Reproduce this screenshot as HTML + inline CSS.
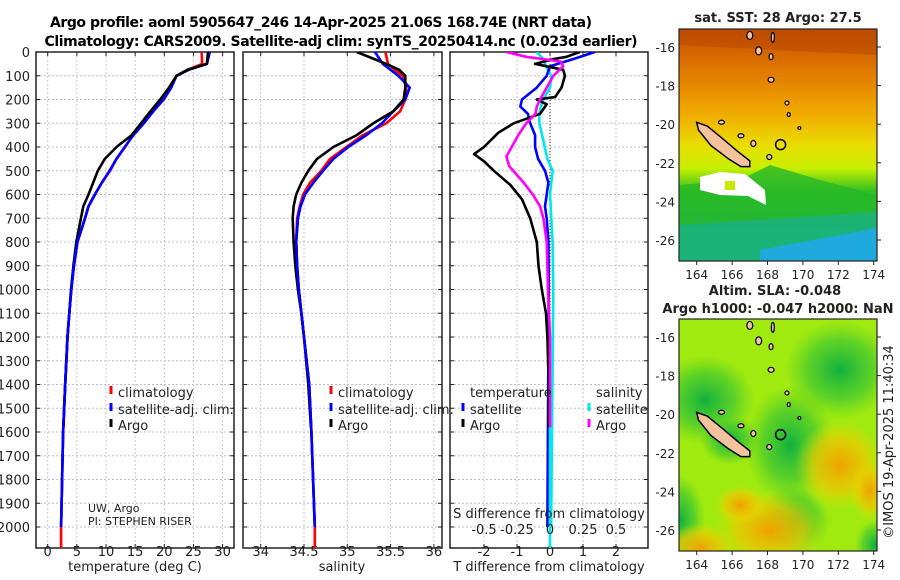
<!DOCTYPE html>
<html><head><meta charset="utf-8"><style>
body{margin:0;background:#fff}
svg{display:block;font-family:"DejaVu Sans","Liberation Sans",sans-serif}
</style></head><body>
<svg id="fig" width="900" height="580" viewBox="0 0 900 580">
<defs>
<clipPath id="c1"><rect x="36" y="52" width="198" height="496"/></clipPath>
<clipPath id="c2"><rect x="243" y="52" width="199" height="496"/></clipPath>
<clipPath id="c3"><rect x="450" y="52" width="198" height="496"/></clipPath>
<clipPath id="m1"><rect x="679" y="29" width="198" height="232"/></clipPath>
<clipPath id="m2"><rect x="679" y="319" width="198" height="232"/></clipPath>
<linearGradient id="sstg" x1="0" y1="0" x2="0" y2="1">
<stop offset="0" stop-color="#c04e00"/><stop offset="0.12" stop-color="#d86a00"/>
<stop offset="0.25" stop-color="#e88a00"/><stop offset="0.38" stop-color="#f0b000"/>
<stop offset="0.5" stop-color="#eadc00"/><stop offset="0.6" stop-color="#c8f000"/>
<stop offset="0.7" stop-color="#30c020"/><stop offset="0.85" stop-color="#18b070"/>
<stop offset="1" stop-color="#20c0d0"/></linearGradient>
<radialGradient id="gb"><stop offset="0" stop-color="#10b040"/><stop offset="0.6" stop-color="#40c830" stop-opacity="0.7"/><stop offset="1" stop-color="#60d020" stop-opacity="0"/></radialGradient>
<radialGradient id="ob"><stop offset="0" stop-color="#f0a000"/><stop offset="0.6" stop-color="#f0c800" stop-opacity="0.7"/><stop offset="1" stop-color="#e0e000" stop-opacity="0"/></radialGradient>
</defs>
<text x="321" y="27" font-size="14" font-weight="bold" text-anchor="middle" textLength="542">Argo profile: aoml 5905647_246 14-Apr-2025 21.06S 168.74E (NRT data)</text>
<text x="341" y="46" font-size="14" font-weight="bold" text-anchor="middle" textLength="593">Climatology: CARS2009. Satellite-adj clim: synTS_20250414.nc (0.023d earlier)</text>
<g id="panels"></g>
<g id="maps"></g>
</svg>
<script>
// ---- data ----
const depthLevels = [0,50,75,100,150,200,250,300,350,400,450,500,550,600,650,700,800,900,1000,1100,1200,1400,1600,2000];
const tempClim = [26.4,26.5,24,22.1,21,19.5,17.8,16.3,14.6,13.3,11.8,10.7,9.3,8.1,7.0,6.4,5.1,4.5,4.05,3.7,3.4,3.0,2.65,2.3];
const tempSat = [27.8,27.3,24.2,22.1,21.2,19.9,18.1,16.5,14.7,13.2,11.8,10.6,9.3,8.1,7.0,6.4,5.1,4.5,4.05,3.7,3.4,3.0,2.65,2.3];
const argoDepth = [0,50,75,100,150,200,250,300,350,400,450,500,550,600,650,700,800,900,1000,1100,1200,1400,1580];
const tempArgo = [27.5,27.3,24,22.1,20.8,19.3,17.6,16.0,14.4,11.8,9.8,8.6,7.8,7.0,6.1,5.7,4.9,4.4,4.0,3.7,3.4,3.0,2.7];
const salClim = [35.44,35.47,35.55,35.64,35.68,35.67,35.61,35.45,35.18,34.99,34.80,34.70,34.57,34.49,34.45,34.42,34.41,34.42,34.44,34.47,34.50,34.56,34.585,34.625];
const salSat = [35.32,35.41,35.5,35.59,35.72,35.67,35.53,35.40,35.22,35.01,34.84,34.72,34.61,34.51,34.46,34.43,34.41,34.42,34.44,34.47,34.50,34.56,34.585,34.625];
const salArgo = [35.11,35.45,35.6,35.67,35.67,35.65,35.53,35.30,35.11,34.84,34.65,34.55,34.47,34.41,34.38,34.37,34.38,34.40,34.43,34.47,34.50,34.55,34.58];
const diffDepthA = [0,20,30,50,60,75,100,150,190,200,220,260,300,340,400,430,460,500,560,620,700,800,900,1000,1100,1200,1400,1580];
const tDiffArgo = [0.9,0.5,0.1,-0.45,-0.1,0.4,0.45,0.35,0.15,-0.4,-0.1,-0.3,-1.1,-1.57,-2.0,-2.3,-2.0,-1.7,-1.2,-0.85,-0.6,-0.4,-0.35,-0.25,-0.12,-0.08,-0.04,-0.05];
const diffDepthS = [0,30,60,100,150,200,230,260,300,350,400,450,500,550,600,650,700,800,1000,2000];
const tDiffSat = [1.36,0.7,0,-0.1,-0.4,-0.85,-0.9,-0.67,-0.6,-0.45,-0.45,-0.36,-0.15,-0.05,-0.1,-0.15,-0.1,-0.05,-0.04,-0.08];
const sDiffSat = [-0.1,-0.05,-0.03,0.01,0,-0.05,-0.07,-0.08,-0.08,-0.06,-0.04,-0.02,0.02,0.01,0,0.005,0.01,0.02,0.025,0.008];
const magDepth = [0,20,40,60,100,150,200,230,260,300,350,400,440,480,550,600,650,700,800,900,1000,1200,1580];
const sDiffArgo = [-0.33,-0.18,0.08,0.1,0.025,-0.025,-0.075,-0.1,-0.11,-0.18,-0.24,-0.29,-0.33,-0.31,-0.2,-0.13,-0.075,-0.05,-0.025,-0.02,-0.015,0,0];
const depthTicks = [0,100,200,300,400,500,600,700,800,900,1000,1100,1200,1300,1400,1500,1600,1700,1800,1900,2000];
const tempTicks = [0,5,10,15,20,25,30];
const salTicks = [34,34.5,35,35.5,36];
const tdTicks = [-2,-1,0,1,2];
const sdTicks = [-0.5,-0.25,0,0.25,0.5];
const sdTickLabels = ["-0.5","-0.25","0","0.25","0.5"];

// ---- scales ----
const Y = d => 52 + d*0.2375;
const xT = t => 47.7 + t*5.83;
const xS = s => 260.7 + (s-34)*86.6;
const xD = d => 550 + d*33;
const xSD = d => 550 + d*132;

const NS="http://www.w3.org/2000/svg";
const panels=document.getElementById('panels');
function el(tag,attrs,parent){const e=document.createElementNS(NS,tag);for(const k in attrs)e.setAttribute(k,attrs[k]);(parent||panels).appendChild(e);return e;}
function txt(x,y,s,size,anchor,parent){const t=el('text',{x:x,y:y,'font-size':size,'text-anchor':anchor||'start',fill:'#222'},parent);t.textContent=s;return t;}

function axes(x0,w,xticks,xf,labels,name){
  const g=el('g',{});
  
  
  depthTicks.forEach(d=>{el('line',{x1:x0,x2:x0+w,y1:Y(d),y2:Y(d),stroke:'#b8bfe0','stroke-width':1,'stroke-dasharray':'2,2'},g);
    el('line',{x1:x0,x2:x0+4,y1:Y(d),y2:Y(d),stroke:'#222'},g);el('line',{x1:x0+w-4,x2:x0+w,y1:Y(d),y2:Y(d),stroke:'#222'},g);});
  xticks.forEach((v,i)=>{const x=xf(v);el('line',{x1:x,x2:x,y1:52,y2:548,stroke:'#d8c0c8','stroke-width':1,'stroke-dasharray':'2,2'},g);
    el('line',{x1:x,x2:x,y1:548,y2:544,stroke:'#222'},g);el('line',{x1:x,x2:x,y1:52,y2:56,stroke:'#222'},g);
    if(labels){const t=txt(x,556,labels[i],13,'middle',g);}});
  el('rect',{x:x0,y:52,width:w,height:496,fill:'none',stroke:'#222','stroke-width':1.5},g);
  return g;
}
function line(xs,ds,xf,color,clip,name){
  const pts=xs.map((v,i)=>xf(v).toFixed(1)+','+Y(ds[i]).toFixed(1)).join(' ');
  const p=el('polyline',{points:pts,fill:'none',stroke:color,'stroke-width':2.6,'stroke-linejoin':'round','clip-path':'url(#'+clip+')'});
  
  
}
function legendItem(x,y,color,label,name){
  el('line',{x1:x,x2:x,y1:y-11,y2:y-3,stroke:color,'stroke-width':3});
  const t=txt(x+7,y,label,13,'start');
  
  
}

depthTicks.forEach(d=>{const t=txt(30,Y(d)+5,String(d),13,'end');});

// panel 1 temperature
axes(36,198,tempTicks,xT,tempTicks.map(String),'temperature-axes');
const tempDepthClim = depthLevels.concat([2090]);
line(tempClim.concat([2.3]),tempDepthClim,xT,'#ff0000','c1','temp-climatology-line');
line(tempSat,depthLevels,xT,'#0000ff','c1','temp-satellite-line');
line(tempArgo,argoDepth,xT,'#000000','c1','temp-argo-line');
line(tempSat.slice(12),depthLevels.slice(12),xT,'#0000ff','c1','temp-satellite-deep-line');
txt(135,571,'temperature (deg C)',13,'middle');
legendItem(111,397,'#ff0000','climatology','legend-climatology-temp');
legendItem(111,414,'#0000ff','satellite-adj. clim.','legend-satellite-temp');
legendItem(111,430,'#000000','Argo','legend-argo-temp');
txt(88,512,'UW, Argo',11,'start');
txt(88,525,'PI: STEPHEN RISER',11,'start');

// panel 2 salinity
axes(243,199,salTicks,xS,salTicks.map(String),'salinity-axes');
line(salClim.concat([34.625]),tempDepthClim,xS,'#ff0000','c2','sal-climatology-line');
line(salSat,depthLevels,xS,'#0000ff','c2','sal-satellite-line');
line(salArgo,argoDepth,xS,'#000000','c2','sal-argo-line');
line(salSat.slice(13),depthLevels.slice(13),xS,'#0000ff','c2','sal-satellite-deep-line');
txt(342,571,'salinity',13,'middle');
legendItem(331,397,'#ff0000','climatology','legend-climatology-sal');
legendItem(331,414,'#0000ff','satellite-adj. clim.','legend-satellite-sal');
legendItem(331,430,'#000000','Argo','legend-argo-sal');

// panel 3 differences
axes(450,198,tdTicks,xD,tdTicks.map(String),'difference-axes');
el('line',{x1:550,x2:550,y1:52,y2:548,stroke:'#333','stroke-width':1,'stroke-dasharray':'1,2'});
line(sDiffSat,diffDepthS,xSD,'#00e8e8','c3','sal-diff-satellite-line');
line(tDiffSat,diffDepthS,xD,'#0000ff','c3','temp-diff-satellite-line');
line(tDiffArgo,diffDepthA,xD,'#000000','c3','temp-diff-argo-line');
line(sDiffArgo,magDepth,xSD,'#ff00ff','c3','sal-diff-argo-line');
line([0,0],[1580,2088],xSD,'#00e8e8','c3','sal-diff-deep-line');
txt(549,571,'T difference from climatology',13,'middle');
txt(549,518,'S difference from climatology',13,'middle');
sdTicks.forEach((v,i)=>{const t=txt(xSD(v),534,sdTickLabels[i],13,'middle');});
txt(470,397,'temperature',13,'start');
txt(596,397,'salinity',13,'start');
legendItem(463,414,'#0000ff','satellite','legend-temp-satellite');
legendItem(463,430,'#000000','Argo','legend-temp-argo');
legendItem(589,414,'#00e8e8','satellite','legend-sal-satellite');
legendItem(589,430,'#ff00ff','Argo','legend-sal-argo');

// ---- maps ----
const maps=document.getElementById('maps');
const lonTicks=[164,166,168,170,172,174];
const latTicks=[-16,-18,-20,-22,-24,-26];
function mapFrame(y0,name,clip){
  const g=el('g',{},maps);
  
  
  const f=el('g',{'clip-path':'url(#'+clip+')'},g);
  const LX=l=>696.7+(l-164)*17.7, LY=l=>y0+18+(-16-l)*19.3;
  return {g,f,LX,LY};
}
function coast(g,LX,LY){
  el('polygon',{points:[[164.0,-19.9],[164.6,-20.1],[165.4,-20.7],[166.3,-21.4],[167.0,-21.9],[167.0,-22.2],[166.5,-22.2],[165.8,-21.8],[164.8,-21.1],[164.1,-20.3]].map(p=>LX(p[0])+','+LY(p[1])).join(' '),fill:'#f6c29c',stroke:'#000','stroke-width':1.5},g);
  [[167.5,-16.2,3,4],[168.2,-17.7,3,2.5],[168.2,-16.5,2,3],[167.2,-21.0,2.5,3],[168.1,-21.7,2.5,2.5],[166.5,-20.6,3,2],[165.4,-19.9,3,2],[169.1,-18.9,2,2],[169.2,-19.5,1.5,2],[167.0,-15.4,3,4],[168.3,-15.5,1.5,5],[169.8,-20.2,1.5,1.5]].forEach(b=>{
    el('ellipse',{cx:LX(b[0]),cy:LY(b[1]),rx:b[2],ry:b[3],fill:'#f6c29c',stroke:'#000','stroke-width':1.2},g);});
  el('circle',{cx:LX(168.74),cy:LY(-21.06),r:5,fill:'none',stroke:'#000','stroke-width':1.5},g);
}
function mapAxes(g,LX,LY,y0){
  el('rect',{x:679,y:y0,width:198,height:232,fill:'none',stroke:'#222','stroke-width':1.2},g);
  latTicks.forEach(l=>{el('line',{x1:877,x2:881,y1:LY(l),y2:LY(l),stroke:'#222'},g);
    const t=txt(675,LY(l)+5,String(l),12,'end',g);});
  lonTicks.forEach(l=>{el('line',{x1:LX(l),x2:LX(l),y1:y0+232,y2:y0+236,stroke:'#222'},g);
    const t=txt(LX(l),y0+250,String(l),12,'middle',g);});
}
// SST map
let m=mapFrame(29,'sst-map','m1');
el('rect',{x:679,y:29,width:198,height:232,fill:'url(#sstg)'},m.f);
el('polygon',{points:'679,185 740,180 770,165 820,180 877,195 877,261 679,261',fill:'#28b828',opacity:0.8},m.f);
el('polygon',{points:'679,225 877,212 877,261 679,261',fill:'#18b090',opacity:0.7},m.f);
el('polygon',{points:'760,250 877,228 877,261 760,261',fill:'#20a8e8',opacity:0.9},m.f);
el('polygon',{points:'700,177 720,172 745,174 765,190 766,205 748,196 720,195 700,190',fill:'#ffffff'},m.f);
el('rect',{x:725,y:181,width:10,height:9,fill:'#c8e800'},m.f);
el('polygon',{points:'679,29 877,29 877,55 679,45',fill:'#b84800',opacity:0.5},m.f);
coast(m.f,m.LX,m.LY);mapAxes(m.g,m.LX,m.LY,29);
txt(778,22,'sat. SST: 28 Argo: 27.5',13,'middle').setAttribute('font-weight','bold');
// SLA map
m=mapFrame(319,'sla-map','m2');
el('rect',{x:679,y:319,width:198,height:232,fill:'#a0ea10'},m.f);
[[705,400,50,45],[790,445,45,60],[840,370,55,50],[795,520,35,35],[680,520,25,45],[875,545,20,25],[730,440,30,25]].forEach(b=>el('ellipse',{cx:b[0],cy:b[1],rx:b[2],ry:b[3],fill:'url(#gb)'},m.f));
[[840,465,45,45],[770,530,55,40],[700,548,35,25],[870,490,20,30],[740,505,25,20]].forEach(b=>el('ellipse',{cx:b[0],cy:b[1],rx:b[2],ry:b[3],fill:'url(#ob)'},m.f));
coast(m.f,m.LX,m.LY);mapAxes(m.g,m.LX,m.LY,319);
txt(775,295,'Altim. SLA: -0.048',13,'middle').setAttribute('font-weight','bold');
txt(778,313,'Argo h1000: -0.047 h2000: NaN',13,'middle').setAttribute('font-weight','bold');
const cr=txt(0,0,'©IMOS 19-Apr-2025 11:40:34',13,'middle',maps);
cr.setAttribute('transform','translate(893,442) rotate(-90)');

</script>
</body></html>
